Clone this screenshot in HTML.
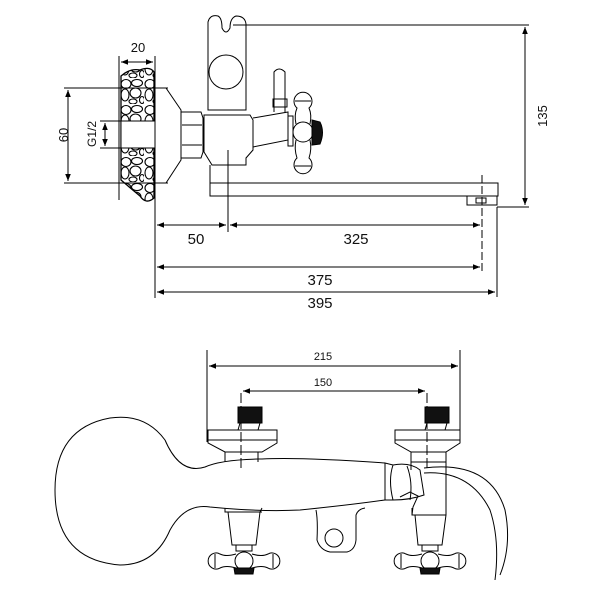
<!DOCTYPE html>
<html><head><style>
html,body{margin:0;padding:0;background:#fff;}
svg{display:block;}
text{font-family:"Liberation Sans",sans-serif;fill:#111;}
</style></head><body>
<svg width="600" height="600" viewBox="0 0 600 600" xmlns="http://www.w3.org/2000/svg">
<defs>
<marker id="a" viewBox="0 0 10 10" refX="10" refY="5" markerWidth="7" markerHeight="7" orient="auto-start-reverse"><path d="M0,1 L10,5 L0,9 Z" fill="#000"/></marker>
<pattern id="peb" width="24" height="26" patternUnits="userSpaceOnUse"><rect width="24" height="26" fill="#fff"/>
<g fill="none" stroke="#000" stroke-width="1.1">
<ellipse cx="6" cy="6" rx="5" ry="4.5"/><ellipse cx="17" cy="5" rx="5.5" ry="3.5"/>
<ellipse cx="5" cy="17" rx="4" ry="6"/><ellipse cx="15.5" cy="15" rx="5.5" ry="5"/>
<ellipse cx="13" cy="23.5" rx="4" ry="2.5"/><ellipse cx="22" cy="22" rx="2.5" ry="3.5"/>
</g></pattern>
</defs>
<g fill="none" stroke="#000" stroke-width="1">
<line x1="119" y1="56" x2="119" y2="200"/>
<line x1="155" y1="56" x2="155" y2="298"/>
<line x1="121" y1="62" x2="153" y2="62" marker-start="url(#a)" marker-end="url(#a)"/>
<path d="M121,76 Q130,68 140,70 Q150,66 154,72 L154,198 Q146,205 140,196 Q128,186 121,180 Z" fill="url(#peb)" stroke-width="1.3"/>
<rect x="121" y="121" width="34" height="27" fill="#fff"/>
<line x1="64" y1="88" x2="168" y2="88"/>
<line x1="64" y1="183" x2="168" y2="183"/>
<line x1="68" y1="90" x2="68" y2="181" marker-start="url(#a)" marker-end="url(#a)"/>
<line x1="100" y1="121" x2="122" y2="121"/>
<line x1="100" y1="148" x2="122" y2="148"/>
<line x1="105" y1="123" x2="105" y2="146" marker-start="url(#a)" marker-end="url(#a)"/>
<path d="M155,88 L166,88 L181,110 L181,160 L166,183 L155,183"/>
<path d="M181,112 L201,112 L203,118 L203,152 L201,158 L181,158 Z"/>
<line x1="182" y1="125" x2="202" y2="125"/><line x1="182" y1="145" x2="202" y2="145"/>
<path d="M204,115 L250,115 L253,120 L253,150 L246,158 L246,165 L212,165 L204,152 Z"/>
<path d="M253,118 L288,112 L288,140 L253,147"/>
<rect x="288" y="116" width="5" height="30"/>
<path d="M208,110 L208,22 Q210,14 218,16 Q222,18 222,28 Q226,36 230,28 Q230,18 236,16 Q245,16 246,24 L246,110 Z"/>
<circle cx="226" cy="72" r="17"/>
<line x1="233" y1="25" x2="529" y2="25"/>
<path d="M274,112 L274,72 Q279,66 285,72 L285,112"/>
<rect x="273" y="99" width="14" height="8"/>
<circle cx="303" cy="132" r="10"/>
<path d="M296,124 Q294,115 297,108 A9,9 0 1 1 309,108 Q312,115 310,124"/>
<path d="M296,140 Q294,149 297,158 A9,9 0 1 0 309,158 Q312,149 310,140"/>
<line x1="295" y1="101" x2="311" y2="101"/><line x1="295" y1="166" x2="311" y2="166"/>
<path d="M312,120 L320,122 Q325,132 320,144 L312,145 Z" fill="#111"/>
<path d="M210,165 L210,196 L498,196 L498,183 L246,183"/>
<line x1="210" y1="183" x2="246" y2="183"/>
<path d="M467,196 L467,205 L497,205 L497,196"/>
<rect x="476" y="198" width="10" height="5"/>
<line x1="497" y1="207" x2="529" y2="207"/>
<line x1="525" y1="27" x2="525" y2="205" marker-start="url(#a)" marker-end="url(#a)"/>
<line x1="228" y1="150" x2="228" y2="232"/>
<line x1="482" y1="175" x2="482" y2="272" stroke-dasharray="8,3"/>
<line x1="497" y1="207" x2="497" y2="297"/>
<line x1="157" y1="225" x2="226" y2="225" marker-start="url(#a)" marker-end="url(#a)"/>
<line x1="230" y1="225" x2="480" y2="225" marker-start="url(#a)" marker-end="url(#a)"/>
<line x1="157" y1="267" x2="480" y2="267" marker-start="url(#a)" marker-end="url(#a)"/>
<line x1="157" y1="292" x2="495" y2="292" marker-start="url(#a)" marker-end="url(#a)"/>

<line x1="207" y1="350" x2="207" y2="442"/>
<line x1="460" y1="350" x2="460" y2="442"/>
<line x1="209" y1="366" x2="458" y2="366" marker-start="url(#a)" marker-end="url(#a)"/>
<line x1="243" y1="391" x2="425" y2="391" marker-start="url(#a)" marker-end="url(#a)"/>
<line x1="241" y1="393" x2="241" y2="470" stroke-dasharray="10,3"/>
<line x1="427" y1="393" x2="427" y2="470" stroke-dasharray="10,3"/>
<rect x="238" y="407" width="24" height="16" fill="#111"/>
<rect x="425" y="407" width="24" height="16" fill="#111"/>
<path d="M240,423 L238,430 M260,423 L258,430 M427,423 L425,430 M447,423 L445,430"/>
<path d="M208,430 L277,430 L277,443 L262,452 L225,452 L208,443 Z"/>
<line x1="208" y1="440" x2="277" y2="440"/>
<path d="M395,430 L460,430 L460,443 L446,452 L411,452 L395,443 Z"/>
<line x1="395" y1="440" x2="460" y2="440"/>
<path d="M225,452 L225,462 M258,452 L258,462"/>
<path d="M411,452 L411,470 M446,452 L446,508"/>
<line x1="411" y1="462" x2="446" y2="462"/>
<path d="M385,463 Q300,457 262,459 L258,459 Q220,460 205,467 Q180,475 165,440 Q145,413 110,418 Q55,428 55,490 Q55,560 120,565 Q155,565 170,530 Q185,503 210,507 Q260,512 300,510 Q350,505 385,500"/>
<path d="M385,463 L393,465 Q388,480 393,500 L385,500 Z"/>
<path d="M393,465 Q410,462 420,470 L424,495 Q410,500 393,500"/>
<path d="M407,466 Q413,482 410,500"/>
<path d="M400,497 L410,492 L418,496 L413,507 L412,515"/>
<path d="M424,473 Q470,470 490,510 Q500,540 495,580"/>
<path d="M424,468 Q490,460 505,510 Q512,545 500,575"/>
<path d="M225,508 L225,512 L228,512 L232,545 L256,545 L260,512 L262,508"/>
<line x1="225" y1="512" x2="262" y2="512"/>
<path d="M412,508 L412,515 L415,515 L418,545 L442,545 L446,515 L446,508"/>
<line x1="412" y1="515" x2="446" y2="515"/>
<path d="M316,510 Q318,520 317,540 Q320,550 330,552 L347,552 Q355,550 356,540 L356,515 Q358,509 365,508"/>
<circle cx="334" cy="538" r="9"/>
<g id="ch">
<circle cx="244" cy="561" r="9"/>
<path d="M236,554 Q226,557 220,554 A8,8 0 1 0 220,568 Q226,565 236,568"/>
<path d="M252,554 Q262,557 268,554 A8,8 0 1 1 268,568 Q262,565 252,568"/>
<line x1="215" y1="554" x2="215" y2="568"/><line x1="273" y1="554" x2="273" y2="568"/>
<rect x="236" y="545" width="16" height="6"/>
<path d="M234,568 L254,568 L253,574 L235,574 Z" fill="#111"/>
</g>
<use href="#ch" x="186"/>
</g>
<g font-size="13" text-anchor="middle">
<text x="138" y="52">20</text>
<text x="64" y="135" transform="rotate(-90 64 135)" dy="4">60</text>
<text x="92" y="134" transform="rotate(-90 92 134)" dy="4" font-size="12">G1/2</text>
<text x="542" y="116" transform="rotate(-90 542 116)" dy="5">135</text>
</g>
<g font-size="15" text-anchor="middle">
<text x="196" y="244">50</text>
<text x="356" y="244">325</text>
<text x="320" y="285">375</text>
<text x="320" y="308">395</text>
</g>
<g font-size="11" text-anchor="middle">
<text x="323" y="360">215</text>
<text x="323" y="386">150</text>
</g>
</svg>
</body></html>
